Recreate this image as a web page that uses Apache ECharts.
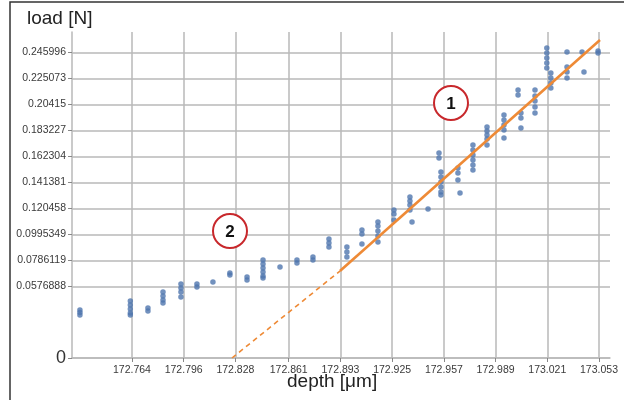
<!DOCTYPE html>
<html>
<head>
<meta charset="utf-8">
<script src="https://cdn.jsdelivr.net/npm/echarts@6/dist/echarts.min.js"></script>
<style>
  html, body { margin: 0; padding: 0; background: #fff; }
  #chart { width: 624px; height: 400px; }
</style>
</head>
<body>
<div id="chart"></div>
<script>
// Indentation measurements: load (N) against depth (µm)
const depth = [
  172.7318, 172.7630, 172.7739, 172.7832, 172.7943, 172.8042, 172.8141, 172.8246,
  172.8352, 172.8451, 172.8556, 172.8661, 172.8760, 172.8859, 172.8970, 172.9063,
  172.9162, 172.9261, 172.9360, 172.9373, 172.9472, 172.9540, 172.9552, 172.9657,
  172.9670, 172.9750, 172.9837, 172.9942, 173.0029, 173.0047, 173.0134, 173.0207,
  173.0232, 173.0332, 173.0425, 173.0437, 173.0524
];
const load = [
  [0.0386, 0.0366, 0.0346],
  [0.0459, 0.0427, 0.0394, 0.0362, 0.0346],
  [0.0402, 0.0378],
  [0.0531, 0.0499, 0.0467, 0.0443],
  [0.0596, 0.0563, 0.0531, 0.0491],
  [0.0596, 0.0571],
  [0.0612],
  [0.0684, 0.0668],
  [0.0652, 0.0628],
  [0.0789, 0.0756, 0.0724, 0.0692, 0.0660, 0.0644],
  [0.0732],
  [0.0789, 0.0765],
  [0.0813, 0.0789],
  [0.0958, 0.0925, 0.0893],
  [0.0893, 0.0853, 0.0813],
  [0.1030, 0.0998, 0.0917],
  [0.1094, 0.1062, 0.1022, 0.0982, 0.0934],
  [0.1191, 0.1159, 0.1111],
  [0.1296, 0.1263, 0.1231, 0.1191],
  [0.1094],
  [0.1199],
  [0.1650, 0.1610],
  [0.1497, 0.1457, 0.1416, 0.1376, 0.1336, 0.1312],
  [0.1529, 0.1489, 0.1432],
  [0.1328],
  [0.1714, 0.1674, 0.1634, 0.1593, 0.1553, 0.1513],
  [0.1859, 0.1827, 0.1795, 0.1762, 0.1714],
  [0.1956, 0.1915, 0.1875, 0.1835, 0.1771],
  [0.2157, 0.2117],
  [0.1972, 0.1931, 0.1851],
  [0.2157, 0.2108, 0.2068, 0.2020, 0.1972],
  [0.2495, 0.2455, 0.2414, 0.2374, 0.2334],
  [0.2294, 0.2253, 0.2213, 0.2173],
  [0.2463, 0.2342, 0.2302, 0.2253],
  [0.2463],
  [0.2302],
  [0.2471, 0.2455]
];

// Linear fit of the loading branch: dashed extrapolation to zero load, then solid
const fitDepth = [172.8259, 172.8927, 173.0536];
const fitLoad = [0, 0.0700, 0.2559];

const xTickLabels = ['172.764', '172.796', '172.828', '172.861', '172.893',
                     '172.925', '172.957', '172.989', '173.021', '173.053'];
const yTickLabels = ['0', '0.0576888', '0.0786119', '0.0995349', '0.120458', '0.141381',
                     '0.162304', '0.183227', '0.20415', '0.225073', '0.245996'];

const xTicks = xTickLabels.map(Number);
const yTicks = yTickLabels.map(Number);

const points = [];
depth.forEach((d, i) => load[i].forEach(v => points.push([d, v])));

const gridColor = '#b9b9b9';
const chart = echarts.init(document.getElementById('chart'));
chart.setOption({
  animation: false,
  backgroundColor: '#fff',
  grid: { left: 72, right: 14, top: 32, bottom: 42 },
  xAxis: {
    type: 'value',
    min: 172.7269,
    max: 173.0598,
    axisLine: { show: true, lineStyle: { color: gridColor, width: 1.5 } },
    axisTick: { show: true, customValues: xTicks, length: 4, lineStyle: { color: '#888' } },
    axisLabel: {
      customValues: xTicks,
      formatter: v => xTickLabels[xTicks.indexOf(v)] ?? '',
      color: '#3a3a3a', fontSize: 10.5, fontFamily: 'Liberation Sans, Arial', margin: 7
    },
    splitLine: { show: true, lineStyle: { color: gridColor, width: 1.5 } }
  },
  yAxis: {
    type: 'value',
    min: 0,
    max: 0.2624,
    axisLine: { show: true, lineStyle: { color: gridColor, width: 1.5 } },
    axisTick: { show: true, customValues: yTicks, length: 4, lineStyle: { color: '#888' } },
    axisLabel: {
      customValues: yTicks,
      formatter: v => {
        const s = yTickLabels[yTicks.indexOf(v)] ?? '';
        return s === '0' ? '{zero|0}' : s;
      },
      color: '#3a3a3a', fontSize: 10.5, fontFamily: 'Liberation Sans, Arial', margin: 6,
      rich: { zero: { fontSize: 18, color: '#333', fontFamily: 'Liberation Sans, Arial' } }
    },
    splitLine: { show: true, lineStyle: { color: gridColor, width: 1.5 } }
  },
  series: [
    {
      type: 'scatter',
      data: points,
      symbol: 'circle',
      symbolSize: 5.5,
      itemStyle: { color: '#4f75ae' },
      z: 3
    },
    {
      type: 'line',
      data: [[fitDepth[0], fitLoad[0]], [fitDepth[1], fitLoad[1]]],
      symbol: 'none',
      lineStyle: { color: '#ee8a36', width: 1.6, type: [5, 4] },
      z: 4
    },
    {
      type: 'line',
      data: [[fitDepth[1], fitLoad[1]], [fitDepth[2], fitLoad[2]]],
      symbol: 'none',
      lineStyle: { color: '#ee8a36', width: 2.6 },
      z: 4
    }
  ],
  graphic: [
    { type: 'rect', shape: { x: 10, y: 2, width: 700, height: 500 },
      style: { fill: 'none', stroke: '#333', lineWidth: 1.5 }, silent: true },
    { type: 'text', left: 27, top: 9,
      style: { text: 'load [N]', fontSize: 19, fill: '#222', fontFamily: 'Liberation Sans, Arial' } },
    { type: 'text', left: 287, top: 372,
      style: { text: 'depth [μm]', fontSize: 19, fill: '#222', fontFamily: 'Liberation Sans, Arial' } },
    { type: 'circle', shape: { cx: 451, cy: 103, r: 17 },
      style: { fill: '#fff', stroke: '#c8282c', lineWidth: 2 }, z: 10 },
    { type: 'text', x: 451, y: 104, z: 11,
      style: { text: '1', fontSize: 17, fontWeight: 'bold', fill: '#111', align: 'center',
               verticalAlign: 'middle', fontFamily: 'Liberation Sans, Arial' } },
    { type: 'circle', shape: { cx: 230, cy: 231, r: 17 },
      style: { fill: '#fff', stroke: '#c8282c', lineWidth: 2 }, z: 10 },
    { type: 'text', x: 230, y: 232, z: 11,
      style: { text: '2', fontSize: 17, fontWeight: 'bold', fill: '#111', align: 'center',
               verticalAlign: 'middle', fontFamily: 'Liberation Sans, Arial' } }
  ]
});
</script>
</body>
</html>
